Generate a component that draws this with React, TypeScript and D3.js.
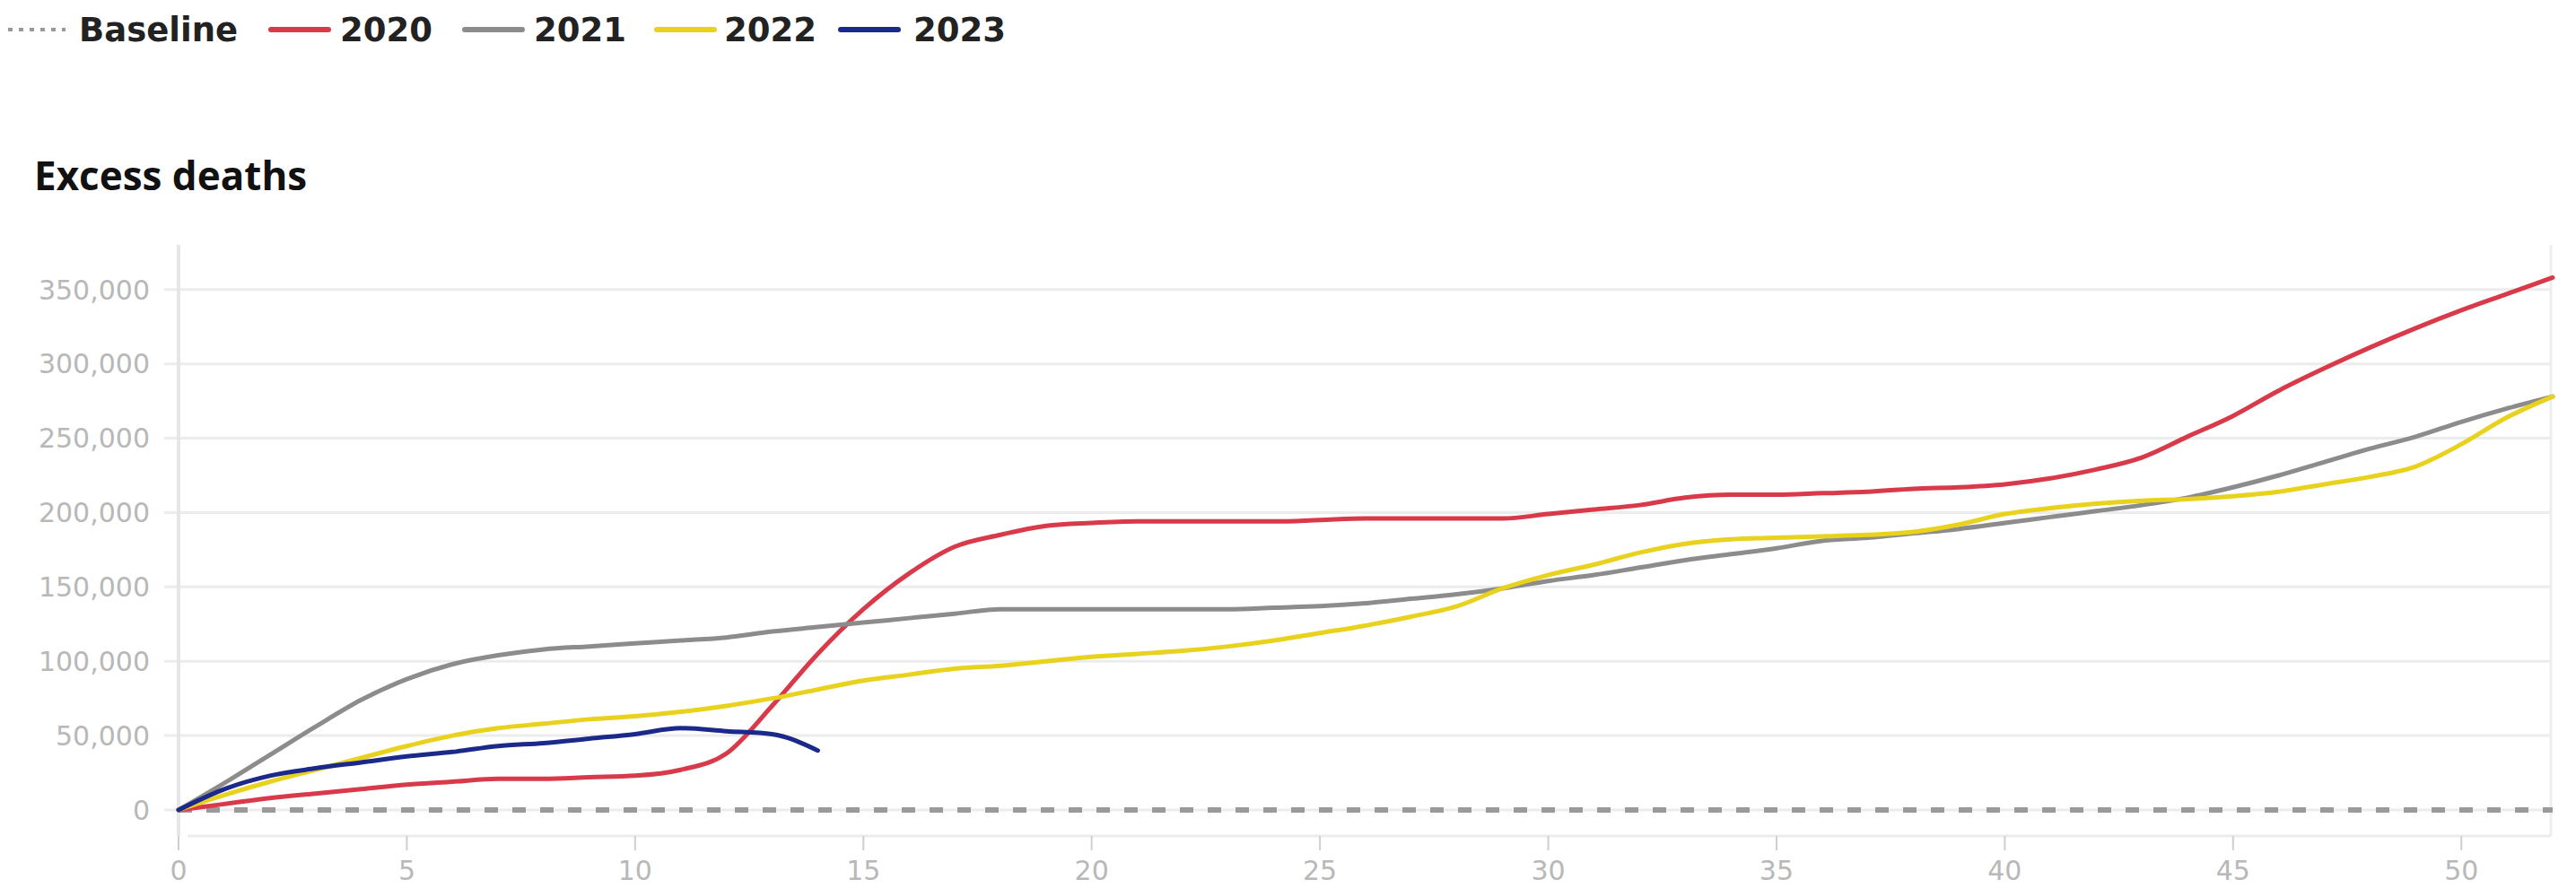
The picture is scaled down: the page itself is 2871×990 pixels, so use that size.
import React from "react";
import * as d3 from "d3";

const weeks = d3.range(0, 53);
const xTicks = [0, 5, 10, 15, 20, 25, 30, 35, 40, 45, 50];
const yTicks = [0, 50000, 100000, 150000, 200000, 250000, 300000, 350000];

const deaths2020 = [0, 4000, 8000, 11000, 14000, 17000, 19000, 21000, 21000, 22000, 23000, 27000, 38000, 70000, 105000, 135000, 159000, 177000, 185000, 191000, 193000, 194000, 194000, 194000, 194000, 195000, 196000, 196000, 196000, 196000, 199000, 202000, 205000, 210000, 212000, 212000, 213000, 214000, 216000, 217000, 219000, 223000, 229000, 237000, 251000, 265000, 282000, 297000, 311000, 324000, 336000, 347000, 358000];
const deaths2021 = [0, 18000, 37000, 56000, 74000, 88000, 98000, 104000, 108000, 110000, 112000, 114000, 116000, 120000, 123000, 126000, 129000, 132000, 135000, 135000, 135000, 135000, 135000, 135000, 136000, 137000, 139000, 142000, 145000, 149000, 154000, 158000, 163000, 168000, 172000, 176000, 181000, 183000, 186000, 189000, 193000, 197000, 201000, 205000, 210000, 217000, 225000, 234000, 243000, 251000, 261000, 270000, 278000];
const deaths2022 = [0, 10000, 19000, 27000, 35000, 43000, 50000, 55000, 58000, 61000, 63000, 66000, 70000, 75000, 81000, 87000, 91000, 95000, 97000, 100000, 103000, 105000, 107000, 110000, 114000, 119000, 124000, 130000, 137000, 149000, 158000, 165000, 173000, 179000, 182000, 183000, 184000, 185000, 187000, 192000, 199000, 203000, 206000, 208000, 209000, 211000, 214000, 219000, 224000, 231000, 246000, 264000, 278000];
const deaths2023 = [0, 14000, 23000, 28000, 32000, 36000, 39000, 43000, 45000, 48000, 51000, 55000, 53000, 51000, 40000];

const seriesNames = ["2020", "2021", "2022", "2023"];
const seriesColors = ["#d83a4a", "#8c8c8c", "#e8d21d", "#1b2a8a"];
const seriesValues = [deaths2020, deaths2021, deaths2022, deaths2023];

const W = 2871;
const H = 990;
const plotLeft = 199;
const plotRight = 2845;
const plotTop = 273;
const zeroY = 903;
const axisY = 932;

export default function App() {
  const x = d3.scaleLinear().domain([0, 52]).range([plotLeft, plotRight]);
  const y = d3.scaleLinear().domain([0, 380000]).range([zeroY, plotTop]);
  const fmt = d3.format(",");
  const line = d3
    .line<number>()
    .x((_, i) => x(weeks[i]))
    .y((d) => y(d))
    .curve(d3.curveMonotoneX);

  const legendItems = [
    { label: "Baseline", lx: 9, tx: 88, color: "#999", dashed: true },
    { label: seriesNames[0], lx: 302, tx: 379, color: seriesColors[0], dashed: false },
    { label: seriesNames[1], lx: 518, tx: 595, color: seriesColors[1], dashed: false },
    { label: seriesNames[2], lx: 732, tx: 807, color: seriesColors[2], dashed: false },
    { label: seriesNames[3], lx: 937, tx: 1018, color: seriesColors[3], dashed: false },
  ];

  return (
    <svg
      width={W}
      height={H}
      style={{ position: "absolute", left: 0, top: 0, background: "#fff" }}
    >
      {/* legend */}
      {legendItems.map((it) => (
        <g key={it.label}>
          <line
            x1={it.lx}
            x2={it.lx + 64}
            y1={33}
            y2={33}
            stroke={it.color}
            strokeWidth={it.dashed ? 4 : 6}
            strokeDasharray={it.dashed ? "5,7" : undefined}
            strokeLinecap={it.dashed ? "butt" : "round"}
          />
          <text
            x={it.tx}
            y={33}
            dy="0.36em"
            fontFamily="DejaVu Sans"
            fontWeight={700}
            fontSize={37}
            fill="#222"
          >
            {it.label}
          </text>
        </g>
      ))}

      {/* title */}
      <text x={38} y={212} fontFamily="Open Sans" fontWeight={700} fontSize={44} fill="#111">
        Excess deaths
      </text>

      {/* grid */}
      {yTicks.map((t) => (
        <g key={t}>
          <line x1={183} x2={plotRight - 2} y1={y(t)} y2={y(t)} stroke="#ececec" strokeWidth={3} />
          <text
            x={167}
            y={y(t)}
            dy="0.36em"
            textAnchor="end"
            fontFamily="DejaVu Sans"
            fontSize={30}
            fill="#b8b8b8"
          >
            {fmt(t)}
          </text>
        </g>
      ))}

      {/* frame */}
      <line x1={plotLeft} x2={plotLeft} y1={plotTop} y2={axisY} stroke="#e6e6e6" strokeWidth={4} />
      <line x1={plotRight - 2} x2={plotRight - 2} y1={plotTop} y2={axisY} stroke="#eeeeee" strokeWidth={3} />
      <line x1={plotLeft + 10} x2={plotRight - 2} y1={axisY} y2={axisY} stroke="#ececec" strokeWidth={3} />

      {/* x ticks */}
      {xTicks.map((t) => (
        <g key={t}>
          <line x1={x(t)} x2={x(t)} y1={axisY} y2={axisY + 16} stroke="#cfcfcf" strokeWidth={2} />
          <text
            x={x(t)}
            y={970}
            dy="0.36em"
            textAnchor="middle"
            fontFamily="DejaVu Sans"
            fontSize={30}
            fill="#b8b8b8"
          >
            {t}
          </text>
        </g>
      ))}

      {/* baseline */}
      <line
        x1={plotLeft}
        x2={plotRight}
        y1={y(0)}
        y2={y(0)}
        stroke="#9a9a9a"
        strokeWidth={6}
        strokeDasharray="15,16"
      />

      {/* series */}
      {seriesValues.map((vals, i) => (
        <path
          key={seriesNames[i]}
          d={line(vals) || ""}
          fill="none"
          stroke={seriesColors[i]}
          strokeWidth={5}
          strokeLinejoin="round"
          strokeLinecap="round"
        />
      ))}
    </svg>
  );
}
